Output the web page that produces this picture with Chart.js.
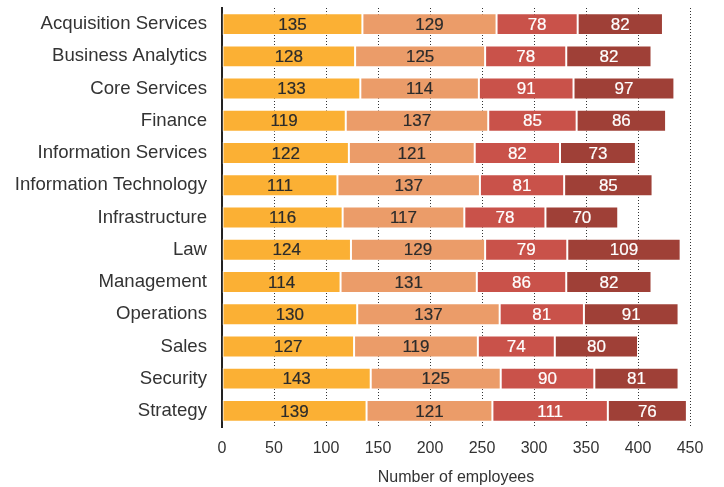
<!DOCTYPE html>
<html>
<head>
<meta charset="utf-8">
<script src="https://cdn.jsdelivr.net/npm/chart.js@4"></script>
<style>
  html, body { margin: 0; padding: 0; background: #fff; }
  #wrap { width: 724px; height: 487px; position: relative; }
</style>
</head>
<body>
<div id="wrap"><canvas id="chart"></canvas></div>
<script>
/* ---------- Data ---------- */
const departments = [
    'Acquisition Services', 'Business Analytics', 'Core Services', 'Finance',
    'Information Services', 'Information Technology', 'Infrastructure', 'Law',
    'Management', 'Operations', 'Sales', 'Security', 'Strategy'
];
const seriesNames = ['Group 1', 'Group 2', 'Group 3', 'Group 4'];
const group1 = [135, 128, 133, 119, 122, 111, 116, 124, 114, 130, 127, 143, 139];
const group2 = [129, 125, 114, 137, 121, 137, 117, 129, 131, 137, 119, 125, 121];
const group3 = [78, 78, 91, 85, 82, 81, 78, 79, 86, 81, 74, 90, 111];
const group4 = [82, 82, 97, 86, 73, 85, 70, 109, 82, 91, 80, 81, 76];
const xTicks = [0, 50, 100, 150, 200, 250, 300, 350, 400, 450];

const barColors = ['#FBB034', '#EB9C69', '#C9524A', '#9F4037'];
const labelColors = ['#2b2b2b', '#2b2b2b', '#ffffff', '#ffffff'];
const FONT = '"Liberation Sans", Arial, Helvetica, sans-serif';

/* ---------- Bar value labels ---------- */
const valueLabels = {
    id: 'valueLabels',
    afterDatasetsDraw(chart) {
        const ctx = chart.ctx;
        ctx.save();
        ctx.font = '17px ' + FONT;
        ctx.textAlign = 'center';
        ctx.textBaseline = 'middle';
        chart.data.datasets.forEach((ds, i) => {
            const meta = chart.getDatasetMeta(i);
            meta.data.forEach((bar, j) => {
                const cx = (bar.x + bar.base) / 2;
                ctx.fillStyle = labelColors[i];
                ctx.strokeStyle = labelColors[i];
                ctx.lineWidth = 0.2;
                ctx.fillText(String(ds.data[j]), cx, bar.y + 1);
                ctx.strokeText(String(ds.data[j]), cx, bar.y + 1);
            });
        });
        ctx.restore();
    }
};

const datasets = [group1, group2, group3, group4].map((vals, i) => ({
    label: seriesNames[i],
    data: vals,
    backgroundColor: barColors[i],
    borderColor: 'rgba(255,255,255,0.65)',
    borderWidth: 1,
    borderSkipped: false,
    barPercentage: 0.68,
    categoryPercentage: 1
}));

new Chart(document.getElementById('chart'), {
    type: 'bar',
    data: { labels: departments, datasets: datasets },
    plugins: [valueLabels],
    options: {
        indexAxis: 'y',
        responsive: true,
        maintainAspectRatio: false,
        animation: false,
        layout: { padding: { top: 8, right: 34, bottom: 0, left: 0 } },
        plugins: {
            legend: { display: false },
            tooltip: { enabled: false }
        },
        scales: {
            x: {
                stacked: true,
                min: 0,
                max: 450,
                afterBuildTicks: s => { s.ticks = xTicks.map(v => ({ value: v })); },
                afterFit: s => { s.height = 60; },
                grid: { color: '#333', lineWidth: 1, drawTicks: false },
                border: { display: false, dash: [1, 2] },
                ticks: {
                    padding: 12,
                    color: '#333',
                    font: { family: FONT, size: 16 }
                },
                title: {
                    display: true,
                    text: 'Number of employees',
                    color: '#333',
                    padding: { top: 0, bottom: 0 },
                    font: { family: FONT, size: 16 }
                }
            },
            y: {
                stacked: true,
                afterFit: s => { s.width = 222; s.paddingTop = 0; s.paddingBottom = 0; },
                grid: { display: false, drawTicks: false },
                border: { display: true, color: '#222', width: 2 },
                ticks: {
                    padding: 15,
                    color: '#333',
                    font: { family: FONT, size: 18.6 }
                }
            }
        }
    }
});
</script>
</body>
</html>
